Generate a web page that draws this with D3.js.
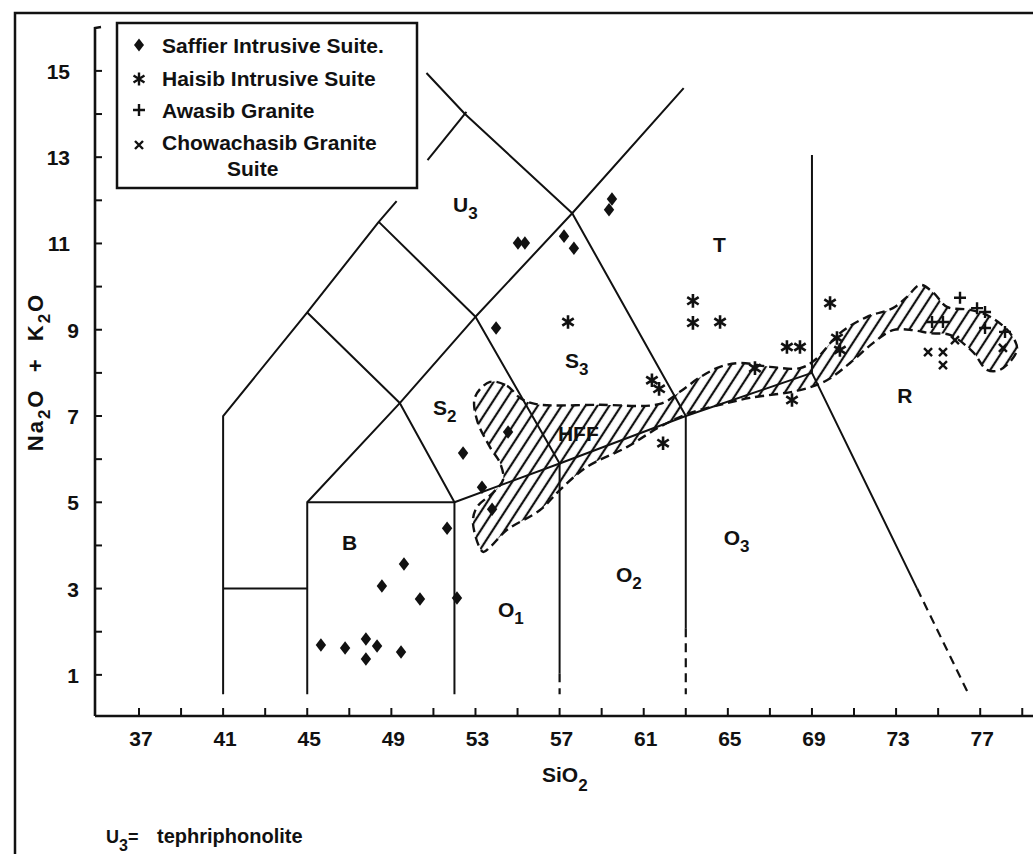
<!DOCTYPE html>
<html><head><meta charset="utf-8">
<script src="https://cdn.jsdelivr.net/npm/d3@7"></script>
<style>
body{margin:0;background:#fff}
svg{display:block}
text{font-family:"Liberation Sans",Arial,sans-serif;font-weight:bold;fill:#111}
</style>
</head><body><svg id="c" width="1033" height="854"></svg>
<script>
// ---------- data ----------
const xTickLabels = [37,41,45,49,53,57,61,65,69,73,77];
const xMinorTicks = [37,39,41,43,45,47,49,51,53,55,57,59,61,63,65,67,69,71,73,75,77,79];
const yTickLabels = [1,3,5,7,9,11,13,15];
const yMinorTicks = [1,2,3,4,5,6,7,8,9,10,11,12,13,14,15];

const saffier = [[59.49,12.03],[59.35,11.78],[55.02,11.01],[55.35,11.01],[57.21,11.17],[57.68,10.89],
  [53.98,9.04],[54.55,6.63],[52.41,6.14],[53.31,5.35],[53.79,4.84],[51.65,4.40],[52.12,2.78],
  [49.60,3.57],[48.55,3.06],[50.36,2.76],[45.65,1.69],[46.80,1.62],[47.79,1.83],[48.32,1.67],
  [47.79,1.37],[49.46,1.53]];
const haisib = [[57.40,9.18],[63.34,9.67],[63.34,9.16],[64.63,9.18],[61.39,7.83],[61.73,7.63],
  [61.92,6.37],[66.29,8.11],[67.81,8.60],[68.43,8.60],[68.05,7.37],[69.86,9.62],[70.19,8.81],[70.33,8.53]];
const awasib = [[76.04,9.74],[76.85,9.50],[77.23,9.41],[74.71,9.18],[75.23,9.18],[77.23,9.04],[78.18,8.95]];
const chowachasib = [[74.52,8.48],[75.23,8.48],[75.23,8.18],[75.80,8.76],[78.08,8.58]];

const solidBoundaries = [
  [[41,0.55],[41,7],[45,9.4],[48.4,11.5],[49.25,11.98]],
  [[41,3],[45,3]],
  [[45,0.55],[45,5],[52,5],[52,0.55]],
  [[45,5],[49.4,7.3],[53,9.3],[57.6,11.7],[62.9,14.6]],
  [[45,9.4],[49.4,7.3],[52,5]],
  [[48.4,11.5],[53,9.3],[57,5.9]],
  [[50.67,14.95],[52.5,14],[57.6,11.7],[63,7]],
  [[52.57,14.05],[50.72,12.93]],
  [[52,5],[57,5.9],[63,7],[69,8]],
  [[57,5.9],[57,1.04]],
  [[63,7],[63,2.08]],
  [[69,13.05],[69,8],[74,3]]
];
const dashedBoundaries = [
  [[57,1.04],[57,0.55]],
  [[63,2.08],[63,0.55]],
  [[74,3],[76.45,0.55]]
];

const hffOutline = [[53.69,7.79],[54.50,7.70],[55.12,7.42],[55.83,7.28],[58.92,7.26],[61.77,7.28],
  [62.72,7.56],[63.68,7.90],[64.63,8.14],[65.58,8.23],[67.00,8.14],[68.43,8.11],[69.14,8.30],
  [70.33,8.92],[71.62,9.30],[72.85,9.50],[73.52,9.76],[74.14,10.04],[74.75,9.87],[75.42,9.53],
  [76.52,9.46],[77.47,9.30],[78.42,8.92],[78.75,8.53],[77.94,8.07],[77.32,8.07],[76.66,8.48],
  [75.56,8.88],[74.61,8.92],[73.80,8.99],[72.85,8.99],[71.90,8.69],[70.81,8.23],[69.71,7.83],
  [68.43,7.60],[66.05,7.42],[64.96,7.30],[63.20,7.07],[61.77,6.75],[60.20,6.28],[58.30,5.82],
  [57.02,5.29],[56.07,4.82],[54.50,4.36],[53.69,3.96],[53.36,3.85],[52.88,4.52],[53.07,4.89],
  [53.83,5.22],[54.31,5.52],[54.17,5.91],[53.69,6.28],[53.07,6.91],[52.98,7.44]];

const fieldLabels = [
  {t:"U",s:"3",x:51.93,y:11.73},
  {t:"T",s:"",x:64.3,y:10.80},
  {t:"S",s:"3",x:57.26,y:8.11},
  {t:"S",s:"2",x:50.98,y:7.02},
  {t:"HFF",s:"",x:56.92,y:6.42},
  {t:"B",s:"",x:46.65,y:3.89},
  {t:"O",s:"1",x:54.07,y:2.34},
  {t:"O",s:"2",x:59.68,y:3.15},
  {t:"O",s:"3",x:64.8,y:4.0},
  {t:"R",s:"",x:73.05,y:7.3}
];
const legendItems = ["Saffier Intrusive Suite.","Haisib Intrusive Suite","Awasib Granite","Chowachasib Granite"];

// ---------- scales ----------
const x = d3.scaleLinear().domain([37,77]).range([139,980.2]);
const y = d3.scaleLinear().domain([0,15]).range([718,718-15*43.14]);
const svg = d3.select("#c");

// frame
svg.append("path").attr("d","M15,854 L15,13 L1033,13").attr("fill","none").attr("stroke","#111").attr("stroke-width",2.5);

// hatch pattern
const defs = svg.append("defs");
const pat = defs.append("pattern").attr("id","hatch").attr("patternUnits","userSpaceOnUse")
  .attr("width",10).attr("height",10).attr("patternTransform","rotate(33)");
pat.append("line").attr("x1",2).attr("y1",0).attr("x2",2).attr("y2",10).attr("stroke","#111").attr("stroke-width",2.2);

// HFF
const hffLine = d3.line().x(d=>x(d[0])).y(d=>y(d[1])).curve(d3.curveCatmullRomClosed.alpha(0.5));
svg.append("path").attr("d",hffLine(hffOutline)).attr("fill","url(#hatch)")
  .attr("stroke","#111").attr("stroke-width",2.4).attr("stroke-dasharray","9,5");

// boundaries
const bl = d3.line().x(d=>x(d[0])).y(d=>y(d[1]));
svg.append("g").selectAll("path").data(solidBoundaries).join("path").attr("d",bl)
  .attr("fill","none").attr("stroke","#111").attr("stroke-width",2).attr("stroke-linejoin","round");
svg.append("g").selectAll("path").data(dashedBoundaries).join("path").attr("d",bl)
  .attr("fill","none").attr("stroke","#111").attr("stroke-width",2.2).attr("stroke-dasharray","9,6");

// axes
const axY0 = 716, axX0 = 95;
svg.append("line").attr("x1",axX0).attr("x2",1033).attr("y1",axY0).attr("y2",axY0).attr("stroke","#111").attr("stroke-width",2.6);
svg.append("path").attr("d",`M${axX0},${axY0} L${axX0},28 L${axX0+6},27`).attr("fill","none").attr("stroke","#111").attr("stroke-width",2.6);
svg.append("g").selectAll("line").data(xMinorTicks).join("line")
  .attr("x1",d=>x(d)).attr("x2",d=>x(d)).attr("y1",axY0).attr("y2",axY0-8).attr("stroke","#111").attr("stroke-width",2);
svg.append("g").selectAll("line").data(yMinorTicks).join("line")
  .attr("x1",axX0).attr("x2",axX0+7).attr("y1",d=>y(d)).attr("y2",d=>y(d)).attr("stroke","#111").attr("stroke-width",2);
svg.append("g").selectAll("text").data(xTickLabels).join("text")
  .attr("x",d=>x(d)+2).attr("y",746).attr("text-anchor","middle").attr("font-size",21).text(d=>d);
svg.append("g").selectAll("text").data(yTickLabels).join("text")
  .attr("x",d=>String(d).length>1?70:79).attr("y",d=>y(d)+8).attr("text-anchor","end").attr("font-size",21).text(d=>d);

// axis titles
const xt = svg.append("text").attr("x",542).attr("y",782).attr("font-size",21);
xt.append("tspan").text("SiO");
xt.append("tspan").attr("font-size",17).attr("dy",9).text("2");
const yt = svg.append("text").attr("transform","translate(43,372) rotate(-90)").attr("text-anchor","middle")
  .attr("font-size",22).attr("letter-spacing",2).attr("xml:space","preserve");
yt.append("tspan").text("Na");
yt.append("tspan").attr("font-size",17).attr("dy",7).text("2");
yt.append("tspan").attr("dy",-7).text("O  +  K");
yt.append("tspan").attr("font-size",17).attr("dy",7).text("2");
yt.append("tspan").attr("dy",-7).text("O");

// field labels
const fl = svg.append("g").selectAll("text").data(fieldLabels).join("text")
  .attr("x",d=>x(d.x)).attr("y",d=>y(d.y)).attr("font-size",21);
fl.append("tspan").text(d=>d.t);
fl.append("tspan").attr("font-size",17).attr("dy",7).text(d=>d.s);

// symbols
const diamond = (r)=>`M0,${-r*1.3}L${r},0L0,${r*1.3}L${-r},0Z`;
const star = (r)=>{const a=r*Math.cos(Math.PI/5.5), b=r*Math.sin(Math.PI/5.5);return `M0,${-r}L0,${r}M${-a},${-b}L${a},${b}M${-a},${b}L${a},${-b}`;};
const plus = (r)=>`M0,${-r}L0,${r}M${-r},0L${r},0`;
const cross = (r)=>`M${-r},${-r}L${r},${r}M${-r},${r}L${r},${-r}`;

svg.append("g").selectAll("path").data(saffier).join("path").attr("d",diamond(5.2))
  .attr("transform",d=>`translate(${x(d[0])},${y(d[1])})`).attr("fill","#111");
svg.append("g").selectAll("path").data(haisib).join("path").attr("d",star(6.8))
  .attr("transform",d=>`translate(${x(d[0])},${y(d[1])})`).attr("stroke","#111").attr("stroke-width",2.6).attr("fill","none");
svg.append("g").selectAll("path").data(awasib).join("path").attr("d",plus(6))
  .attr("transform",d=>`translate(${x(d[0])},${y(d[1])})`).attr("stroke","#111").attr("stroke-width",2.4).attr("fill","none");
svg.append("g").selectAll("path").data(chowachasib).join("path").attr("d",cross(4))
  .attr("transform",d=>`translate(${x(d[0])},${y(d[1])})`).attr("stroke","#111").attr("stroke-width",2.4).attr("fill","none");

// legend
svg.append("rect").attr("x",117).attr("y",23).attr("width",300).attr("height",165)
  .attr("fill","#fff").attr("stroke","#111").attr("stroke-width",2.5);
const legSym = [diamond(5),star(6.5),plus(6),cross(4)];
const legY = [45,79,110,145];
legSym.forEach((p,i)=>{
  const g = svg.append("path").attr("d",p).attr("transform",`translate(139,${legY[i]})`);
  if(i===0) g.attr("fill","#111"); else g.attr("fill","none").attr("stroke","#111").attr("stroke-width",2.4);
});
svg.append("g").selectAll("text").data(legendItems).join("text")
  .attr("x",162).attr("y",(d,i)=>[53,86,118,150][i]).attr("font-size",21).text(d=>d);
svg.append("text").attr("x",227).attr("y",176).attr("font-size",21).text("Suite");

// footer
const ft = svg.append("text").attr("x",106).attr("y",843).attr("font-size",18);
ft.append("tspan").text("U");
ft.append("tspan").attr("font-size",16).attr("dy",8).text("3");
ft.append("tspan").attr("dy",-8).text("=");
ft.append("tspan").attr("x",157).attr("font-size",20).text("tephriphonolite");
</script></body></html>
